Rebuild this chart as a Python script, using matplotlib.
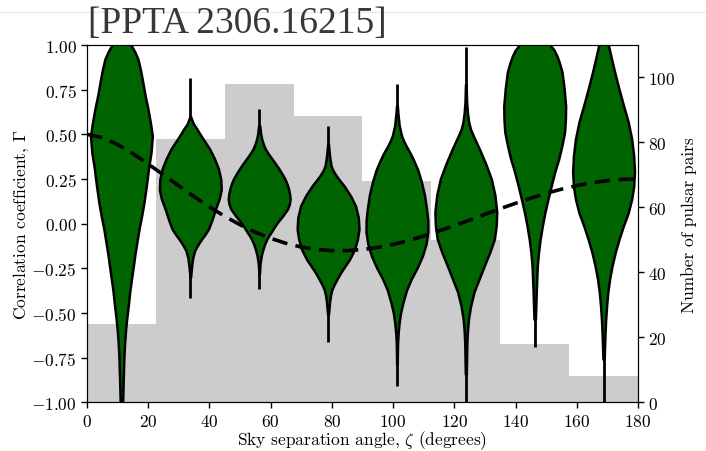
import matplotlib
matplotlib.use("Agg")
import matplotlib.pyplot as plt
from matplotlib.lines import Line2D
import numpy as np

matplotlib.rcParams['font.family']              = 'cmr10'
matplotlib.rcParams['mathtext.fontset']         = 'cm'
matplotlib.rcParams['axes.formatter.use_mathtext'] = True
matplotlib.rcParams['font.size']                = 12.5
matplotlib.rcParams['axes.unicode_minus']       = True

# angular bins (degrees) and number of pulsar pairs in each
bin_edges   = [0.0, 22.5, 45.0, 67.5, 90.0, 112.5, 135.0, 157.5, 180.0]
pair_counts = [24, 81, 98, 88, 68, 50, 18, 8]

# Hellings-Downs curve (every 5 degrees)
hd_angle = [0, 5, 10, 15, 20, 25, 30, 35, 40, 45, 50, 55, 60, 65, 70, 75, 80, 85, 90,
            95, 100, 105, 110, 115, 120, 125, 130, 135, 140, 145, 150, 155, 160, 165,
            170, 175, 180]
hd_gamma = [0.500, 0.482, 0.443, 0.392, 0.334, 0.273, 0.212, 0.151, 0.094, 0.041,
            -0.006, -0.048, -0.082, -0.110, -0.131, -0.144, -0.151, -0.151, -0.145,
            -0.133, -0.116, -0.095, -0.069, -0.041, -0.011, 0.020, 0.052, 0.084,
            0.114, 0.143, 0.170, 0.193, 0.213, 0.229, 0.241, 0.248, 0.250]

# violin density profiles per bin: Gamma levels and relative density
v1_gamma = [1.06, 1.00, 0.96, 0.92, 0.86, 0.80, 0.72, 0.64, 0.56, 0.49, 0.40, 0.31,
            0.22, 0.12, 0.04, -0.03, -0.10, -0.17, -0.24, -0.31, -0.38, -0.45, -0.52,
            -0.59, -0.66, -0.73, -0.87, -1.05]
v1_dens  = [3, 9.5, 13.5, 16.5, 19, 21, 23.5, 26.5, 29, 30.8, 29.5, 27, 25, 22.5, 20,
            17.5, 15.5, 13.5, 11.8, 10, 8.3, 7, 5.5, 4.2, 3.3, 2.6, 1.8, 1]
v2_gamma = [0.60, 0.56, 0.53, 0.50, 0.47, 0.42, 0.365, 0.31, 0.25, 0.19, 0.14, 0.08,
            0.02, -0.03, -0.06, -0.09, -0.12, -0.15, -0.19, -0.24, -0.30]
v2_dens  = [0.3, 3, 6.7, 10, 13.5, 19.5, 24.5, 28.5, 31, 31.5, 29.5, 25.5, 22, 18.5,
            15, 11, 7.5, 4.5, 2.5, 1.3, 0.3]
v3_gamma = [0.55, 0.50, 0.474, 0.445, 0.418, 0.39, 0.362, 0.334, 0.306, 0.278, 0.250,
            0.222, 0.194, 0.166, 0.138, 0.110, 0.082, 0.045, 0.009, -0.02, -0.047,
            -0.066, -0.086, -0.115, -0.142, -0.18, -0.226, -0.28]
v3_dens  = [0.5, 1.5, 2.5, 4, 6, 9, 12.5, 16, 19.3, 22.3, 25, 27, 28.5, 29.5, 30,
            29.3, 27.5, 23, 18, 14.5, 11.7, 9.5, 7.5, 5.3, 3.7, 2, 0.8, 0.3]
v4_gamma = [0.45, 0.418, 0.37, 0.324, 0.297, 0.27, 0.24, 0.212, 0.156, 0.100, 0.035,
            -0.030, -0.085, -0.142, -0.20, -0.254, -0.28, -0.31, -0.34, -0.366, -0.40,
            -0.439, -0.506]
v4_dens  = [0.3, 0.8, 1.7, 3, 5, 8, 12, 16, 22.5, 27.5, 30.3, 31, 29.5, 26.7, 21.5, 15,
            12, 9, 6.2, 4, 2.5, 1.5, 0.5]
v5_gamma = [0.66, 0.614, 0.55, 0.492, 0.46, 0.43, 0.40, 0.362, 0.30, 0.233, 0.16,
            0.082, 0.02, -0.047, -0.115, -0.180, -0.245, -0.310, -0.37, -0.439, -0.50,
            -0.551, -0.61, -0.674, -0.786]
v5_dens  = [0.4, 1, 2.2, 4.5, 6.8, 9.5, 12.5, 15.8, 20.5, 24, 27, 29, 30.2, 30.3, 28.5,
            25, 20, 14, 9.5, 6, 3.5, 2.2, 1.2, 0.6, 0.3]
v6_gamma = [0.78, 0.68, 0.62, 0.569, 0.53, 0.49, 0.455, 0.418, 0.335, 0.250, 0.16,
            0.065, -0.01, -0.086, -0.16, -0.237, -0.31, -0.383, -0.46, -0.534, -0.60,
            -0.674, -0.842]
v6_dens  = [0.3, 0.8, 1.6, 2.8, 4.5, 7.5, 10.3, 13.3, 19.5, 25, 28.5, 30.3, 29.8, 28,
            23.5, 18, 13, 8, 4.7, 2.6, 1.6, 1, 0.5]
v7_gamma = [1.05, 1.00, 0.97, 0.94, 0.90, 0.849, 0.76, 0.658, 0.585, 0.513, 0.44,
            0.362, 0.29, 0.211, 0.14, 0.065, -0.01, -0.086, -0.16, -0.237, -0.383,
            -0.534]
v7_dens  = [10, 15, 19, 21.5, 24, 26.5, 28.5, 30, 29.8, 29, 26.5, 23.3, 19.5, 16, 13,
            10, 7.5, 5.3, 3.7, 2.5, 1.5, 0.7]
v8_gamma = [1.03, 0.994, 0.92, 0.849, 0.75, 0.658, 0.57, 0.474, 0.38, 0.289, 0.21,
            0.138, 0.06, -0.013, -0.085, -0.159, -0.235, -0.310, -0.385, -0.461,
            -0.535, -0.607, -0.758]
v8_dens  = [2, 5, 8, 11, 15.5, 20, 24.5, 28, 30, 30.8, 30, 28, 24.5, 19.7, 15.5, 11.7,
            8.5, 6, 4.2, 3, 2.1, 1.5, 0.6]

# extent of each violin (min, max of the posterior)
v_min = [-1.0, -0.417, -0.366, -0.663, -0.908, -1.0, -0.691, -1.0]
v_max = [1.0, 0.815, 0.642, 0.548, 0.782, 0.99, 1.0, 1.0]

GREEN = '#006400'


def make_stats():
    profiles = [(v1_gamma, v1_dens), (v2_gamma, v2_dens), (v3_gamma, v3_dens),
                (v4_gamma, v4_dens), (v5_gamma, v5_dens), (v6_gamma, v6_dens),
                (v7_gamma, v7_dens), (v8_gamma, v8_dens)]
    stats = []
    for (g, d), lo, hi in zip(profiles, v_min, v_max):
        stats.append(dict(coords=np.array(g), vals=np.array(d, dtype=float),
                          mean=np.nan, median=np.nan, min=lo, max=hi))
    return stats


def figure_1():
    fig = plt.figure(figsize=(7.06, 4.52), dpi=100)
    ax = fig.add_axes([0.1232, 0.1077, 0.7805, 0.7905])
    ax2 = ax.twinx()

    # histogram of pulsar pairs (right axis)
    edges = np.array(bin_edges)
    ax2.bar(edges[:-1], pair_counts, width=np.diff(edges), align='edge',
            color='#cccccc', linewidth=0)
    ax2.set_ylim(0, 110)
    ax2.set_yticks([0, 20, 40, 60, 80, 100])
    ax2.set_ylabel('Number of pulsar pairs', labelpad=4)

    ax.set_zorder(ax2.get_zorder() + 1)
    ax.patch.set_visible(False)

    centers = 0.5 * (edges[:-1] + edges[1:])
    parts = ax.violin(make_stats(), positions=centers, widths=20.2,
                      showextrema=True)
    for body in parts['bodies']:
        body.set_facecolor(GREEN)
        body.set_edgecolor('black')
        body.set_linewidth(1.8)
        body.set_alpha(1.0)
        body.set_zorder(2)
    parts['cbars'].set_color('black')
    parts['cbars'].set_linewidth(2.0)
    parts['cbars'].set_zorder(1)
    parts['cmins'].set_visible(False)
    parts['cmaxes'].set_visible(False)

    ax.plot(hd_angle, hd_gamma, color='black', linewidth=2.6,
            linestyle=(0, (4.3, 2.3)), zorder=4)

    ax.set_xlim(0, 180)
    ax.set_ylim(-1.0, 1.0)
    ax.set_xticks(np.arange(0, 181, 20))
    ax.set_yticks(np.arange(-1.0, 1.01, 0.25))
    ax.yaxis.set_major_formatter(
        matplotlib.ticker.FuncFormatter(lambda v, p: r'$%.2f$' % v))
    ax.set_xlabel(r'Sky separation angle, $\zeta$ (degrees)', labelpad=0)
    ax.set_ylabel(r'Correlation coefficient, $\Gamma$', labelpad=0)

    for a in (ax, ax2):
        a.tick_params(direction='out', length=4, width=1)

    # slide header
    fig.add_artist(Line2D([0, 1], [0.971, 0.971], color='#ecece2', linewidth=1))
    fig.text(0.124, 0.948, '[PPTA 2306.16215]', fontsize=27,
             family='Liberation Serif', color='#383838', va='center', ha='left')

    fig.savefig('out.png', dpi=100)


def main():
    figure_1()

if __name__ == '__main__':
    main()
